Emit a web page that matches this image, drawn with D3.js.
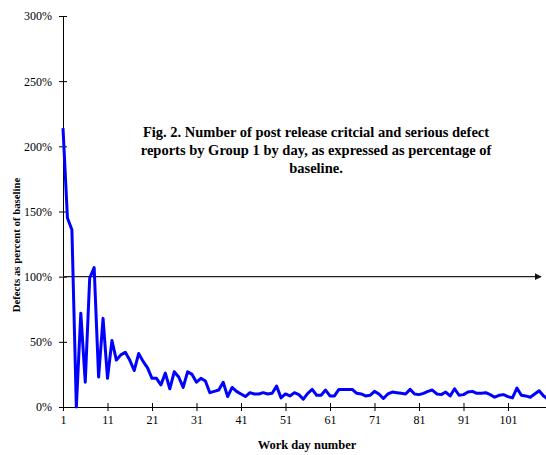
<!DOCTYPE html>
<html>
<head>
<meta charset="utf-8">
<script src="https://cdn.jsdelivr.net/npm/d3@7"></script>
<style>
  body { margin: 0; background: #fff; }
  svg { display: block; font-family: "Liberation Serif", "Times New Roman", serif; }
</style>
</head>
<body>
<div id="chart"></div>
<script>
// percent of baseline, one value per work day (day 1 .. 110)
const defectPct = [
  214, 145, 136, 0, 72, 19, 99, 107, 23, 68,
  22, 51, 36, 40, 42, 36, 28, 41, 35, 30,
  22, 22, 17, 26, 14, 27, 23, 15, 27, 25,
  19, 22, 20, 11, 12, 13, 19, 8, 15, 12,
  10, 8, 11, 10, 10, 11, 10, 10.5, 16, 7,
  10, 8.5, 11, 9.5, 6, 10.5, 13.5, 9, 9, 13,
  8.5, 8.5, 13.5, 13.5, 13.5, 13.5, 10.5, 10, 8.5, 9,
  12, 10, 6.5, 10, 11.5, 11, 10.5, 10, 13.5, 10,
  9.5, 10.5, 12, 13, 10, 9.5, 11.5, 8.5, 14, 9,
  9.5, 11.5, 12, 10.5, 10.5, 11, 9.5, 7.5, 9, 9.5,
  8, 7, 14.5, 9, 8.5, 7.5, 10, 12.5, 8.5, 6
]
const days = defectPct.map((d, i) => i + 1)
const xTicks = [1, 11, 21, 31, 41, 51, 61, 71, 81, 91, 101]
const yTicks = [0, 50, 100, 150, 200, 250, 300]
const baseline = 100
const titleLines = [
  "Fig. 2. Number of post release critcial and serious defect",
  "reports by Group 1 by day, as expressed as percentage of",
  "baseline."
]

const width = 546, height = 455

const svg = d3.select("#chart").append("svg")
  .attr("width", width)
  .attr("height", height)

const xScale = d3.scaleLinear()
  .domain([1, 109.54])
  .range([63, 546])

const yScale = d3.scaleLinear()
  .domain([0, 300])
  .range([407, 16])

// arrow marker for baseline line
svg.append("defs").append("marker")
  .attr("id", "arrow")
  .attr("viewBox", "0 0 10 10")
  .attr("refX", 9).attr("refY", 5)
  .attr("markerWidth", 7).attr("markerHeight", 7)
  .attr("markerUnits", "userSpaceOnUse")
  .attr("orient", "auto")
  .append("path")
  .attr("d", "M0,0 L10,5 L0,10 Z")
  .attr("fill", "#111")

// x axis
let xAxis = svg.append("g")
  .attr("transform", `translate(0, ${yScale(0)})`)
  .call(d3.axisBottom(xScale).tickValues(xTicks).tickSizeOuter(0).tickSize(4).tickPadding(4))
xAxis.selectAll(".tick line").attr("y1", -4).attr("y2", 4)
xAxis.select(".domain").attr("stroke", "#000")
xAxis.selectAll("text")
  .attr("font-size", "12px")
  .attr("font-family", "Liberation Serif")
  .attr("fill", "#000")

// y axis
let yAxis = svg.append("g")
  .attr("transform", `translate(${xScale(1)}, 0)`)
  .call(d3.axisLeft(yScale).tickValues(yTicks).tickFormat(d => d + "%").tickSizeOuter(0).tickSize(4).tickPadding(7))
yAxis.selectAll(".tick line").attr("x1", -4).attr("x2", 4)
yAxis.selectAll("text")
  .attr("font-size", "12px")
  .attr("font-family", "Liberation Serif")
  .attr("fill", "#000")

// baseline arrow at 100%
svg.append("line")
  .attr("x1", xScale(1))
  .attr("x2", 541)
  .attr("y1", yScale(baseline))
  .attr("y2", yScale(baseline))
  .attr("stroke", "#222")
  .attr("stroke-width", 1.2)
  .attr("marker-end", "url(#arrow)")

// data line
const line = d3.line()
  .x((d, i) => xScale(days[i]))
  .y(d => yScale(d))

svg.append("path")
  .datum(defectPct)
  .attr("d", line)
  .attr("fill", "none")
  .attr("stroke", "#0000ff")
  .attr("stroke-width", 3)
  .attr("stroke-linejoin", "round")

// axis titles
svg.append("text")
  .attr("x", 307)
  .attr("y", 449)
  .attr("text-anchor", "middle")
  .attr("font-weight", "bold")
  .attr("font-size", "12.5px")
  .text("Work day number")

svg.append("text")
  .attr("transform", "translate(20, 245) rotate(-90)")
  .attr("text-anchor", "middle")
  .attr("font-weight", "bold")
  .attr("font-size", "10.8px")
  .text("Defects as percent of baseline")

// figure caption inside plot
svg.append("g")
  .selectAll("text")
  .data(titleLines)
  .join("text")
  .attr("x", 316)
  .attr("y", (d, i) => 137 + i * 18)
  .attr("text-anchor", "middle")
  .attr("font-weight", "bold")
  .attr("font-size", "14.5px")
  .text(d => d)
</script>
</body>
</html>
